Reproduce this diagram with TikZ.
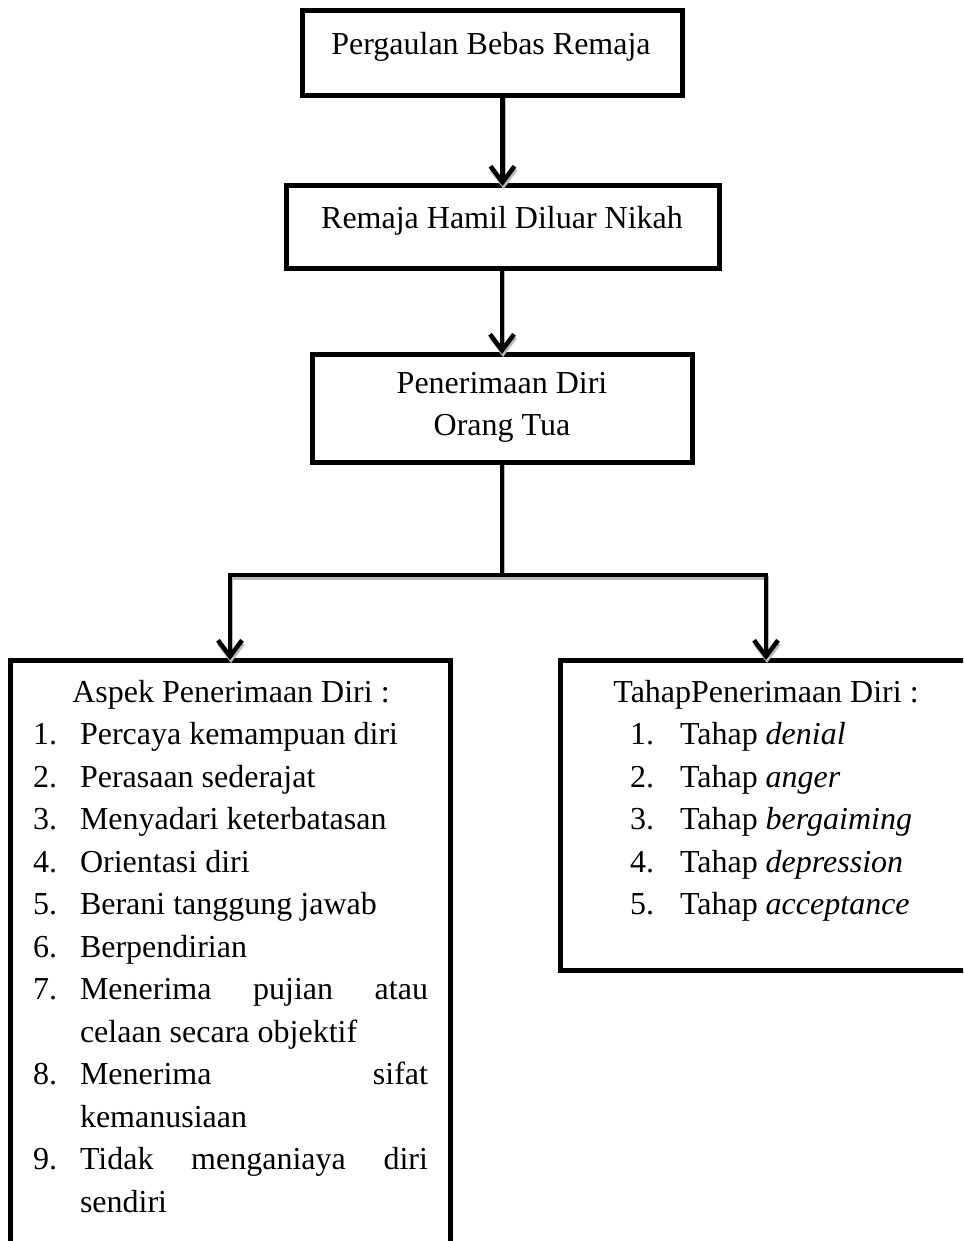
\documentclass[tikz,border=0pt]{standalone}
\usepackage{fontspec}
\setmainfont{Liberation Serif}
\usetikzlibrary{arrows.meta}
\tikzset{
  box/.style={draw, line width=5pt, inner sep=0pt, outer sep=0pt, rectangle},
  txt/.style={inner sep=0pt, outer sep=0pt, font=\fontsize{32}{42.5}\selectfont},
  conn/.style={line width=4.5pt, preaction={draw=gray!55, line width=4.5pt, transform canvas={shift={(1pt,-3pt)}}}},
  arr/.style={conn, -{Straight Barb[length=16pt, width=24pt, line width=4.5pt]}},
}
\begin{document}
\begin{tikzpicture}[x=1pt, y=-1pt]
\useasboundingbox (0,0) rectangle (963,1241);
\clip (0,0) rectangle (963,1241);
% boxes
\node[box, minimum width=380pt, minimum height=85pt] (b1) at (492.5,53) {};
\node[box, minimum width=433pt, minimum height=82pt] (b2) at (502.5,227) {};
\node[box, minimum width=380pt, minimum height=108pt] (b3) at (502,408) {};
\node[box, minimum width=440pt, minimum height=600pt] (aspek) at (230,960) {};
\node[box, minimum width=412pt, minimum height=310pt] (tahap) at (766,815) {};
% box texts
\node[txt, anchor=base] (t1) at (491,55) {Pergaulan Bebas Remaja};
\node[txt, anchor=base] (t2) at (502,229) {Remaja Hamil Diluar Nikah};
\node[txt, anchor=base] (t3a) at (502,393) {Penerimaan Diri};
\node[txt, anchor=base] (t3b) at (502,435) {Orang Tua};
% left list
\node[txt, anchor=base] (at) at (231,702) {Aspek Penerimaan Diri :};
\node[txt, anchor=base west] (an1) at (33,744.5) {1.};
\node[txt, anchor=base west] (ai1) at (80,744.5) {Percaya kemampuan diri};
\node[txt, anchor=base west] (an2) at (33,787) {2.};
\node[txt, anchor=base west] (ai2) at (80,787) {Perasaan sederajat};
\node[txt, anchor=base west] (an3) at (33,829.5) {3.};
\node[txt, anchor=base west] (ai3) at (80,829.5) {Menyadari keterbatasan};
\node[txt, anchor=base west] (an4) at (33,872) {4.};
\node[txt, anchor=base west] (ai4) at (80,872) {Orientasi diri};
\node[txt, anchor=base west] (an5) at (33,914.5) {5.};
\node[txt, anchor=base west] (ai5) at (80,914.5) {Berani tanggung jawab};
\node[txt, anchor=base west] (an6) at (33,957) {6.};
\node[txt, anchor=base west] (ai6) at (80,957) {Berpendirian};
\node[txt, anchor=base west] (an7) at (33,999.5) {7.};
\node[txt, anchor=base west] (ai7) at (80,999.5) {\hbox to 348pt{Menerima\hfill pujian\hfill atau}};
\node[txt, anchor=base west] (ai7b) at (80,1042) {celaan secara objektif};
\node[txt, anchor=base west] (an8) at (33,1084.5) {8.};
\node[txt, anchor=base west] (ai8) at (80,1084.5) {\hbox to 348pt{Menerima\hfill sifat}};
\node[txt, anchor=base west] (ai8b) at (80,1127) {kemanusiaan};
\node[txt, anchor=base west] (an9) at (33,1169.5) {9.};
\node[txt, anchor=base west] (ai9) at (80,1169.5) {\hbox to 348pt{Tidak\hfill menganiaya\hfill diri}};
\node[txt, anchor=base west] (ai9b) at (80,1212) {sendiri};
% right list
\node[txt, anchor=base] (tt) at (766,702) {TahapPenerimaan Diri :};
\node[txt, anchor=base west] (tn1) at (630,744.5) {1.};
\node[txt, anchor=base west] (ti1) at (680,744.5) {Tahap \textit{denial}};
\node[txt, anchor=base west] (tn2) at (630,787) {2.};
\node[txt, anchor=base west] (ti2) at (680,787) {Tahap \textit{anger}};
\node[txt, anchor=base west] (tn3) at (630,829.5) {3.};
\node[txt, anchor=base west] (ti3) at (680,829.5) {Tahap \textit{bergaiming}};
\node[txt, anchor=base west] (tn4) at (630,872) {4.};
\node[txt, anchor=base west] (ti4) at (680,872) {Tahap \textit{depression}};
\node[txt, anchor=base west] (tn5) at (630,914.5) {5.};
\node[txt, anchor=base west] (ti5) at (680,914.5) {Tahap \textit{acceptance}};
% connectors
\coordinate (mid) at (502,575);
\draw[arr] (b1.south -| b2.north) -- (b2.north);
\draw[arr] (b2.south -| b3.north) -- (b3.north);
\draw[conn] (b3.south) -- (mid);
\draw[arr] (mid) -| (aspek.north);
\draw[arr] (mid) -| (tahap.north);
\end{tikzpicture}
\end{document}
